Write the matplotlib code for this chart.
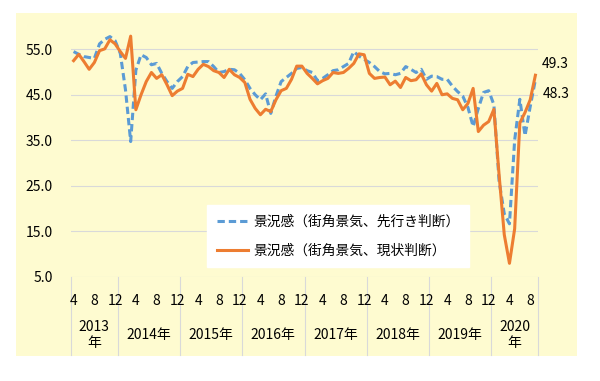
import matplotlib
matplotlib.use("Agg")
import matplotlib.pyplot as plt
from matplotlib.patches import Rectangle

# ---------------------------------------------------------
# 1. Data (monthly, 2013/4 - 2020/9)
# ---------------------------------------------------------
start_year = 2013
start_month = 4

# 景況感（街角景気、先行き判断）
future_di = [
    54.5, 53.9, 53.4, 53.2, 53.0, 56.2, 57.2, 57.8, 56.9,
    54.1, 46.1, 34.7, 50.4, 53.8, 53.2, 51.6, 51.9, 49.7, 47.9, 46.4, 47.9,
    49.0, 51.2, 52.1, 52.2, 52.3, 52.3, 51.2, 49.9, 50.1, 50.6, 50.5, 49.7,
    48.3, 46.4, 45.0, 43.9, 45.2, 40.9, 44.7, 47.9, 48.8, 49.7, 50.8, 51.0,
    50.3, 49.9, 48.1, 48.6, 49.4, 50.3, 50.5, 51.2, 51.9, 54.5, 53.5, 52.8,
    52.1, 51.2, 50.1, 49.6, 49.7, 49.4, 49.7, 51.2, 50.6, 49.9, 50.6, 48.4,
    49.1, 49.0, 48.4, 48.4, 46.9, 45.7, 44.7, 42.2, 38.0, 42.0, 45.5, 45.9,
    42.8, 26.0, 18.8, 16.6, 35.0, 44.0, 36.0, 42.4, 48.3,
]

# 景況感（街角景気、現状判断）
current_di = [
    52.5, 53.9, 52.3, 50.6, 52.1, 54.7, 55.1, 57.1, 56.2,
    54.5, 53.0, 57.9, 41.7, 45.0, 47.9, 49.9, 48.6, 49.4, 47.2, 44.8, 45.8,
    46.4, 49.5, 49.0, 50.6, 51.7, 51.2, 50.3, 49.9, 48.8, 50.6, 49.4, 48.8,
    47.7, 44.0, 42.0, 40.6, 41.8, 41.3, 43.9, 45.9, 46.4, 48.4, 51.3, 51.3,
    49.7, 48.6, 47.4, 48.1, 48.6, 49.9, 49.7, 49.9, 50.8, 51.9, 54.0, 53.8,
    49.7, 48.6, 48.8, 48.9, 47.2, 48.0, 46.6, 48.8, 48.1, 48.3, 49.6, 47.2,
    45.8, 47.5, 45.0, 45.2, 44.2, 43.9, 41.7, 43.1, 46.4, 36.9, 38.3, 39.1,
    41.8, 27.4, 14.2, 7.9, 15.5, 38.8, 41.1, 43.9, 49.3,
]

label_future = "景況感（街角景気、先行き判断）"
label_current = "景況感（街角景気、現状判断）"
year_labels = ["2013\n年", "2014年", "2015年", "2016年", "2017年", "2018年", "2019年", "2020\n年"]
month_ticks = [4, 8, 12]
y_ticks = [5, 15, 25, 35, 45, 55]

# ---------------------------------------------------------
# 2. Style
# ---------------------------------------------------------
plt.rcParams['font.family'] = ['Noto Sans CJK JP', 'DejaVu Sans']
BG_YELLOW = '#FEFBD0'
GRID = '#D9D9D9'
BLUE = '#5B9BD5'
ORANGE = '#ED7D31'
FS = 10
W, H = 600, 381

fig = plt.figure(figsize=(6, 3.81), dpi=100)
fig.patch.set_facecolor('white')
fig.patches.append(Rectangle((16 / W, 1 - 356 / H), (577 - 16) / W, (356 - 13) / H,
                             transform=fig.transFigure, facecolor=BG_YELLOW,
                             edgecolor='none', zorder=-10))

left, right, top, bottom = 71, 538, 26.6, 276.5
ax = fig.add_axes([left / W, 1 - bottom / H, (right - left) / W, (bottom - top) / H])
ax.set_facecolor('none')

# ---------------------------------------------------------
# 3. Lines
# ---------------------------------------------------------
n = len(current_di)
x = list(range(n))
ax.plot(x, future_di, color=BLUE, lw=2.2, dashes=(2.4, 1.3), label=label_future, zorder=3)
ax.plot(x, current_di, color=ORANGE, lw=2.2, label=label_current, zorder=4)

ax.set_xlim(-0.5, n - 0.5)
ax.set_ylim(5, 60)
ax.set_yticks(y_ticks)
ax.set_yticklabels([f"{v:.1f}" for v in y_ticks], fontsize=FS)
ax.tick_params(axis='y', length=0, pad=13)
ax.set_xticks([])
ax.yaxis.grid(True, color=GRID, lw=0.8)
ax.set_axisbelow(True)
for s in ax.spines.values():
    s.set_visible(False)

# end labels
ax.annotate(f"{current_di[-1]:.1f}", (n - 1, current_di[-1]), xytext=(4.5, 8),
            textcoords='offset points', ha='left', va='center', fontsize=FS)
ax.annotate(f"{future_di[-1]:.1f}", (n - 1, future_di[-1]), xytext=(5, -10),
            textcoords='offset points', ha='left', va='center', fontsize=FS)

# ---------------------------------------------------------
# 4. Multi-level category axis
# ---------------------------------------------------------
tr = ax.get_xaxis_transform()
ph = bottom - top
y_month = -(301 - bottom) / ph
y_year = -(335 - bottom) / ph
y_end = -(355 - bottom) / ph

for k in range(n):
    m = (start_month - 1 + k) % 12 + 1
    if m in month_ticks:
        ax.text(k, y_month, str(m), transform=tr, ha='center', va='center', fontsize=FS)

bounds = [-0.5]
k = -0.5 + (12 - start_month + 1)
while k < n - 0.5:
    bounds.append(k)
    k += 12
bounds.append(n - 0.5)

for b in bounds:
    ax.plot([b, b], [0, y_end], transform=tr, color=GRID, lw=0.8, clip_on=False)

for i, lab in enumerate(year_labels):
    c = (bounds[i] + bounds[i + 1]) / 2
    ax.text(c, y_year, lab, transform=tr, ha='center', va='center', fontsize=FS,
            linespacing=1.25)

# ---------------------------------------------------------
# 5. Legend
# ---------------------------------------------------------
leg = ax.legend(loc='upper left', bbox_to_anchor=(207 / W, 1 - 205 / H),
                bbox_transform=fig.transFigure, borderaxespad=0, fontsize=9.9,
                frameon=True, fancybox=False, edgecolor='white', framealpha=1,
                handlelength=2.3, handletextpad=0.35, labelspacing=1.1, borderpad=0.7)

fig.savefig('out.png', dpi=100)
